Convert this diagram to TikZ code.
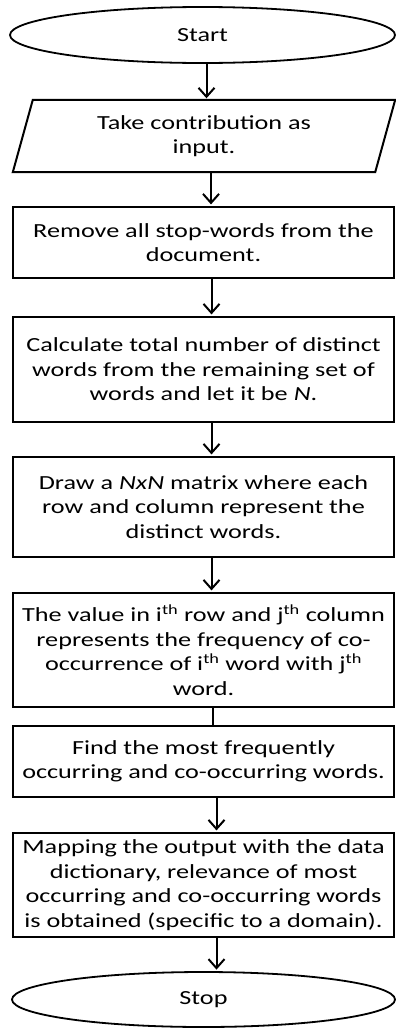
\documentclass[tikz,border=0pt]{standalone}
\usepackage{fontspec}
\setmainfont{Carlito}[FakeStretch=1.31]
\usetikzlibrary{arrows.meta,shapes.geometric}
\begin{document}
\begin{tikzpicture}[x=1pt,y=-1pt,
  every node/.style={font=\fontsize{20}{24.5}\selectfont, align=center, inner sep=0pt, text=black},
  procbox/.style={draw, line width=2.2pt, minimum width=381pt},
  term/.style={draw, ellipse, line width=1.8pt},
  arr/.style={line width=2pt, -{Straight Barb[length=9pt,width=16pt,line width=2pt]}, shorten >=1.5pt},
  link/.style={line width=2pt}
]
\useasboundingbox (0,0) rectangle (396,1028);
\node[term, minimum width=385pt, minimum height=56pt] (start) at (202.5,35) {Start};
\node[minimum width=382pt, minimum height=72pt] (inp) at (204,136) {Take contribution as\\input.};
\draw[line width=2pt, line join=miter] ([xshift=20pt]inp.north west) -- (inp.north east) -- ([xshift=-20pt]inp.south east) -- (inp.south west) -- cycle;
\node[procbox, minimum height=71pt] (rem) at (203.5,242.5) {Remove all stop-words from the\\document.};
\node[procbox, minimum height=105pt] (calc) at (203.5,369.5) {Calculate total number of distinct\\words from the remaining set of\\words and let it be \textit{N}.};
\node[procbox, minimum height=100pt] (drawm) at (203.5,507) {Draw a \textit{NxN} matrix where each\\row and column represent the\\distinct words.};
\node[procbox, minimum height=114pt] (val) at (203.5,650) {The value in i\textsuperscript{th} row and j\textsuperscript{th} column\\represents the frequency of co-\\occurrence of i\textsuperscript{th} word with j\textsuperscript{th}\\word.};
\node[procbox, minimum height=71pt] (find) at (203.5,761.5) {Find the most frequently\\occurring and co-occurring words.};
\node[procbox, minimum height=104pt] (map) at (203.5,885) {Mapping the output with the data\\dictionary, relevance of most\\occurring and co-occurring words\\is obtained (specific to a domain).};
\node[term, minimum width=383pt, minimum height=55pt] (stop) at (203.5,999.5) {Stop};
\draw[arr] ([xshift=4pt]start.south) -- ([xshift=4pt]start.south |- inp.north);
\draw[arr] ([xshift=7pt]inp.south) -- ([xshift=7pt]inp.south |- rem.north);
\draw[arr] ([xshift=8pt]rem.south) -- ([xshift=8pt]rem.south |- calc.north);
\draw[arr] ([xshift=8pt]calc.south) -- ([xshift=8pt]calc.south |- drawm.north);
\draw[arr] ([xshift=8pt]drawm.south) -- ([xshift=8pt]drawm.south |- val.north);
\draw[link] ([xshift=9pt]val.south) -- ([xshift=9pt]val.south |- find.north);
\draw[arr] ([xshift=13pt]find.south) -- ([xshift=13pt]find.south |- map.north);
\draw[arr] ([xshift=13pt]map.south) -- ([xshift=13pt]map.south |- stop.north);
\end{tikzpicture}
\end{document}
